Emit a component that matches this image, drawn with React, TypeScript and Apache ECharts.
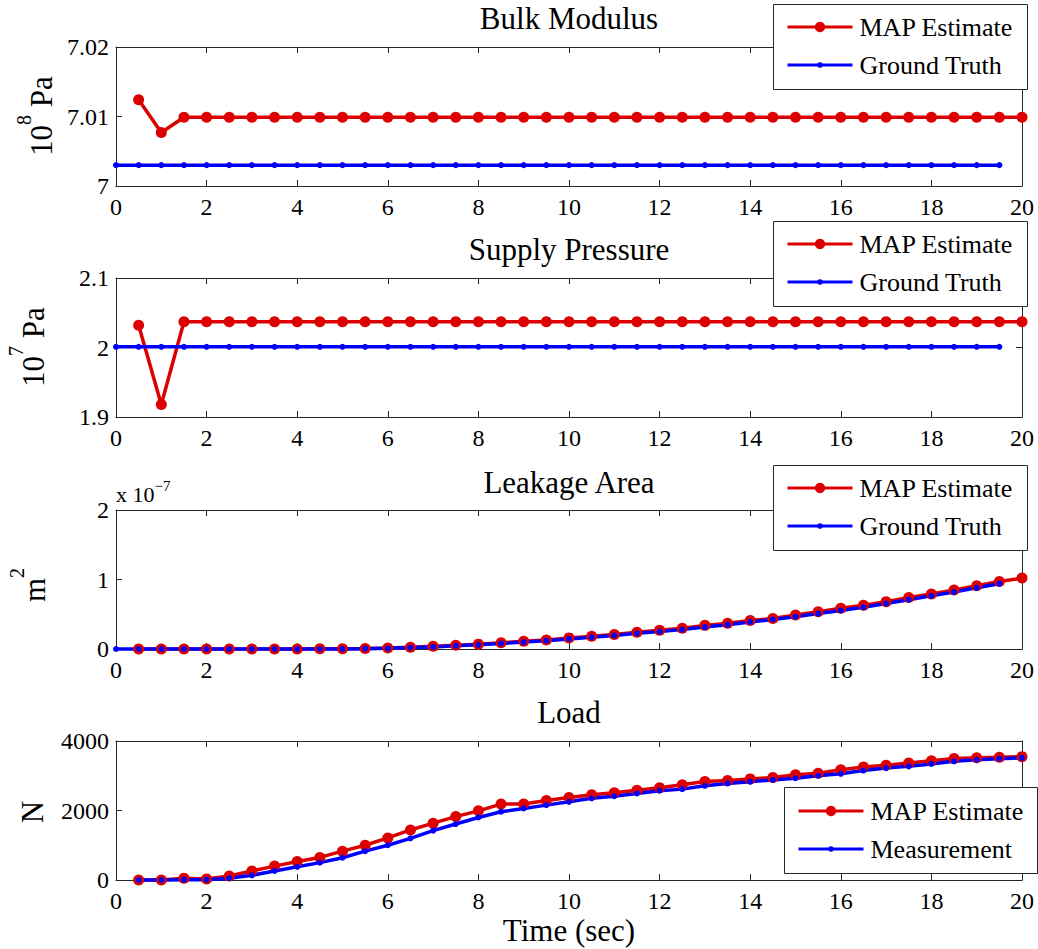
import React, { useEffect, useRef } from "react";
import * as echarts from "echarts";

// ---------- DATA ----------
const timeEstimate = [0.5, 1, 1.5, 2, 2.5, 3, 3.5, 4, 4.5, 5, 5.5, 6, 6.5, 7, 7.5, 8, 8.5, 9, 9.5, 10, 10.5, 11, 11.5, 12, 12.5, 13, 13.5, 14, 14.5, 15, 15.5, 16, 16.5, 17, 17.5, 18, 18.5, 19, 19.5, 20];
const timeTruth = [0, 0.5, 1, 1.5, 2, 2.5, 3, 3.5, 4, 4.5, 5, 5.5, 6, 6.5, 7, 7.5, 8, 8.5, 9, 9.5, 10, 10.5, 11, 11.5, 12, 12.5, 13, 13.5, 14, 14.5, 15, 15.5, 16, 16.5, 17, 17.5, 18, 18.5, 19, 19.5];
const timeMeasurement = [0.5, 1, 1.5, 2, 2.5, 3, 3.5, 4, 4.5, 5, 5.5, 6, 6.5, 7, 7.5, 8, 8.5, 9, 9.5, 10, 10.5, 11, 11.5, 12, 12.5, 13, 13.5, 14, 14.5, 15, 15.5, 16, 16.5, 17, 17.5, 18, 18.5, 19, 19.5, 20];

// Bulk modulus (10^8 Pa)
const bulkEstimate = [7.0124, 7.0077, 7.0099, 7.0099, 7.0099, 7.0099, 7.0099, 7.0099, 7.0099, 7.0099, 7.0099, 7.0099, 7.0099, 7.0099, 7.0099, 7.0099, 7.0099, 7.0099, 7.0099, 7.0099, 7.0099, 7.0099, 7.0099, 7.0099, 7.0099, 7.0099, 7.0099, 7.0099, 7.0099, 7.0099, 7.0099, 7.0099, 7.0099, 7.0099, 7.0099, 7.0099, 7.0099, 7.0099, 7.0099, 7.0099];
const bulkTruth = [7.003, 7.003, 7.003, 7.003, 7.003, 7.003, 7.003, 7.003, 7.003, 7.003, 7.003, 7.003, 7.003, 7.003, 7.003, 7.003, 7.003, 7.003, 7.003, 7.003, 7.003, 7.003, 7.003, 7.003, 7.003, 7.003, 7.003, 7.003, 7.003, 7.003, 7.003, 7.003, 7.003, 7.003, 7.003, 7.003, 7.003, 7.003, 7.003, 7.003];

// Supply pressure (10^7 Pa)
const supplyEstimate = [2.032, 1.918, 2.037, 2.037, 2.037, 2.037, 2.037, 2.037, 2.037, 2.037, 2.037, 2.037, 2.037, 2.037, 2.037, 2.037, 2.037, 2.037, 2.037, 2.037, 2.037, 2.037, 2.037, 2.037, 2.037, 2.037, 2.037, 2.037, 2.037, 2.037, 2.037, 2.037, 2.037, 2.037, 2.037, 2.037, 2.037, 2.037, 2.037, 2.037];
const supplyTruth = [2.001, 2.001, 2.001, 2.001, 2.001, 2.001, 2.001, 2.001, 2.001, 2.001, 2.001, 2.001, 2.001, 2.001, 2.001, 2.001, 2.001, 2.001, 2.001, 2.001, 2.001, 2.001, 2.001, 2.001, 2.001, 2.001, 2.001, 2.001, 2.001, 2.001, 2.001, 2.001, 2.001, 2.001, 2.001, 2.001, 2.001, 2.001, 2.001, 2.001];

// Leakage area (x 10^-7 m^2)
const leakEstimate = [0, 0, 0, 0, 0, 0, 0, 0, 0.002, 0.004, 0.008, 0.015, 0.025, 0.04, 0.055, 0.07, 0.09, 0.11, 0.13, 0.16, 0.185, 0.21, 0.24, 0.27, 0.3, 0.34, 0.37, 0.41, 0.44, 0.49, 0.535, 0.585, 0.63, 0.68, 0.74, 0.79, 0.85, 0.91, 0.97, 1.02];
const leakTruth = [0, 0, 0, 0, 0, 0, 0, 0, 0, 0, 0, 0.005, 0.01, 0.02, 0.03, 0.045, 0.06, 0.08, 0.1, 0.12, 0.145, 0.17, 0.195, 0.225, 0.25, 0.28, 0.315, 0.35, 0.39, 0.425, 0.465, 0.51, 0.555, 0.6, 0.655, 0.71, 0.765, 0.82, 0.88, 0.94];

// Load (N)
const loadEstimate = [0, 0, 50, 30, 115, 260, 400, 530, 650, 830, 1000, 1210, 1440, 1635, 1825, 1990, 2185, 2185, 2290, 2375, 2450, 2510, 2580, 2655, 2740, 2835, 2860, 2910, 2950, 3030, 3075, 3170, 3250, 3305, 3365, 3430, 3495, 3515, 3535, 3550];
const loadMeasurement = [0, 0, 10, 10, 50, 135, 260, 380, 500, 640, 830, 1000, 1200, 1420, 1610, 1800, 1965, 2060, 2155, 2250, 2350, 2410, 2490, 2570, 2615, 2710, 2780, 2830, 2880, 2930, 3000, 3055, 3150, 3220, 3270, 3340, 3415, 3460, 3490, 3515];

const panelTitles = ["Bulk Modulus", "Supply Pressure", "Leakage Area", "Load"];
const legendNames = [
  ["MAP Estimate", "Ground Truth"],
  ["MAP Estimate", "Ground Truth"],
  ["MAP Estimate", "Ground Truth"],
  ["MAP Estimate", "Measurement"],
];
const yRanges = [
  { min: 7, max: 7.02, interval: 0.01 },
  { min: 1.9, max: 2.1, interval: 0.1 },
  { min: 0, max: 2, interval: 1 },
  { min: 0, max: 4000, interval: 2000 },
];

// ---------- STYLE ----------
const FF = "Liberation Serif";
const RED = "#dd0000";
const BLUE = "#0000ff";
const AX = "#262626";
const GRID_LEFT = 116;
const GRID_WIDTH = 906;
const GRID_TOPS = [47, 278, 510, 741];
const GRID_H = 139;
const CENTER_X = GRID_LEFT + GRID_WIDTH / 2;
// legend boxes: [left, top, width, height, row1 centre y, row2 centre y]
const LEGEND_BOXES = [
  [773, 4, 254, 85, 27, 65],
  [773, 221, 254, 85, 244, 282],
  [773, 465, 254, 85, 488, 526],
  [784, 787, 253, 86, 811, 849],
];

const zip = (xs: number[], ys: number[]) => xs.map((x, i) => [x, ys[i]]);
const fmt = (v: number) => String(Math.round(v * 10000) / 10000);

export default function App() {
  const ref = useRef<HTMLDivElement>(null);

  useEffect(() => {
    if (!ref.current) return;
    const chart = echarts.init(ref.current, undefined, { renderer: "svg" });

    const grid = GRID_TOPS.map((top) => ({ left: GRID_LEFT, top, width: GRID_WIDTH, height: GRID_H }));

    const xAxis: any[] = [];
    const yAxis: any[] = [];
    GRID_TOPS.forEach((_, i) => {
      const base = {
        type: "value",
        gridIndex: i,
        min: 0,
        max: 20,
        interval: 2,
        splitLine: { show: false },
        axisLine: { show: true, onZero: false, lineStyle: { color: AX, width: 1 } },
        axisTick: { show: true, inside: true, length: 6, lineStyle: { color: AX } },
      };
      xAxis.push({
        ...base,
        position: "bottom",
        axisLabel: { fontSize: 24, fontFamily: FF, color: "#000", margin: 9, formatter: fmt },
      });
      xAxis.push({ ...base, position: "top", axisLabel: { show: false } });
      const yb = {
        type: "value",
        gridIndex: i,
        ...yRanges[i],
        splitLine: { show: false },
        axisLine: { show: true, onZero: false, lineStyle: { color: AX, width: 1 } },
        axisTick: { show: true, inside: true, length: 6, lineStyle: { color: AX } },
      };
      yAxis.push({
        ...yb,
        position: "left",
        axisLabel: { fontSize: 24, fontFamily: FF, color: "#000", margin: 7, formatter: fmt },
      });
      yAxis.push({ ...yb, position: "right", axisLabel: { show: false } });
    });

    const estSeries = (name: string, idx: number, data: number[][]) => ({
      name,
      type: "line",
      xAxisIndex: idx * 2,
      yAxisIndex: idx * 2,
      data,
      clip: false,
      symbol: "circle",
      symbolSize: 11,
      itemStyle: { color: RED },
      lineStyle: { color: RED, width: 3.5 },
      emphasis: { disabled: true },
    });
    const truthSeries = (name: string, idx: number, data: number[][]) => ({
      name,
      type: "line",
      xAxisIndex: idx * 2,
      yAxisIndex: idx * 2,
      data,
      clip: false,
      symbol: "circle",
      symbolSize: 6,
      itemStyle: { color: BLUE },
      lineStyle: { color: BLUE, width: 3.5 },
      emphasis: { disabled: true },
    });

    const series = [
      estSeries("MAP Estimate", 0, zip(timeEstimate, bulkEstimate)),
      truthSeries("Ground Truth", 0, zip(timeTruth, bulkTruth)),
      estSeries("MAP Estimate", 1, zip(timeEstimate, supplyEstimate)),
      truthSeries("Ground Truth", 1, zip(timeTruth, supplyTruth)),
      estSeries("MAP Estimate", 2, zip(timeEstimate, leakEstimate)),
      truthSeries("Ground Truth", 2, zip(timeTruth, leakTruth)),
      estSeries("MAP Estimate", 3, zip(timeEstimate, loadEstimate)),
      truthSeries("Measurement", 3, zip(timeMeasurement, loadMeasurement)),
    ];

    // one legend component per entry so the icon marker sizes can differ
    const legend: any[] = [];
    LEGEND_BOXES.forEach((b, i) => {
      legendNames[i].forEach((name, k) => {
        const isEst = k === 0;
        legend.push({
          orient: "vertical",
          left: b[0] + 13,
          top: (k === 0 ? b[4] : b[5]) - 15,
          padding: 0,
          itemWidth: 65,
          itemHeight: isEst ? 13 : 7,
          selectedMode: false,
          z: 20,
          lineStyle: { width: 3 },
          textStyle: { fontSize: 26, lineHeight: 30, fontFamily: FF, color: "#000", padding: [0, 0, 0, 2] },
          data: [name],
        });
      });
    });

    const titleYs = [18, 249, 482, 712];
    const text = (t: string, x: number, y: number, size = 31) => ({
      type: "text",
      x,
      y,
      style: { text: t, fill: "#000", fontSize: size, fontFamily: FF, align: "center", verticalAlign: "middle" },
      z: 10,
    });
    const rotRich = (t: string, x: number, y: number) => ({
      type: "text",
      x,
      y,
      rotation: Math.PI / 2,
      style: {
        text: t,
        fill: "#000",
        fontSize: 31,
        fontFamily: FF,
        align: "center",
        verticalAlign: "middle",
        rich: {
          a: { fontSize: 31, fontFamily: FF, fill: "#000" },
          b: { fontSize: 20, fontFamily: FF, fill: "#000", padding: [0, 0, 34, 0] },
        },
      },
      z: 10,
    });

    const graphic: any[] = [
      ...panelTitles.map((t, i) => text(t, CENTER_X, titleYs[i])),
      text("Time (sec)", CENTER_X, 930),
      rotRich("{a|10}{b|8}{a| Pa}", 41, 116),
      rotRich("{a|10}{b|7}{a| Pa}", 33, 347),
      rotRich("{a|m}{b|2}", 34, 585),
      rotRich("{a|N}", 32, 812),
      {
        type: "text",
        x: 116,
        y: 494,
        style: {
          text: "{a|x 10}{b|−7}",
          fill: "#000",
          fontFamily: FF,
          align: "left",
          verticalAlign: "middle",
          rich: {
            a: { fontSize: 22, fontFamily: FF, fill: "#000" },
            b: { fontSize: 15, fontFamily: FF, fill: "#000", padding: [0, 0, 16, 0] },
          },
        },
        z: 10,
      },
      ...LEGEND_BOXES.map((b) => ({
        type: "rect",
        shape: { x: b[0] + 0.5, y: b[1] + 0.5, width: b[2], height: b[3] },
        style: { fill: "#fff", stroke: AX, lineWidth: 1 },
        z: 15,
      })),
    ];

    chart.setOption({
      animation: false,
      backgroundColor: "#fff",
      textStyle: { fontFamily: FF },
      grid,
      xAxis,
      yAxis,
      series,
      legend,
      graphic,
    });

    return () => chart.dispose();
  }, []);

  return (
    <div
      ref={ref}
      style={{ position: "absolute", left: 0, top: 0, width: 1038, height: 949, background: "#fff" }}
    />
  );
}
